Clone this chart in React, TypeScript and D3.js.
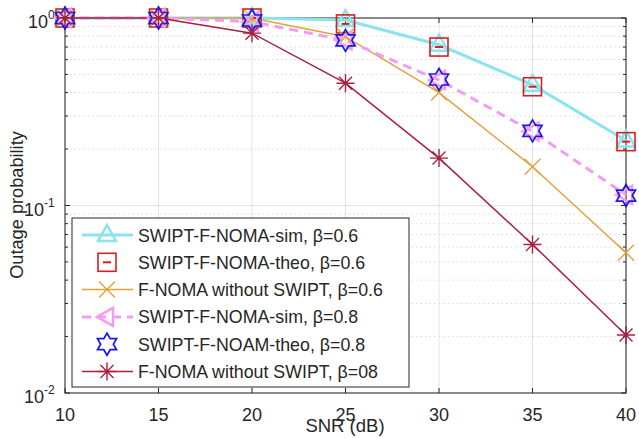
import React from 'react';
import * as d3 from 'd3';

const snr = [10, 15, 20, 25, 30, 35, 40];
const simB06 = [1, 1, 1, 0.975, 0.72, 0.44, 0.222];
const theoB06 = [1, 1, 1, 0.93, 0.70, 0.43, 0.219];
const nomaB06 = [1, 1, 1, 0.795, 0.40, 0.161, 0.056];
const simB08 = [1, 1, 0.955, 0.76, 0.467, 0.248, 0.114];
const theoB08 = [1, 1, 0.97, 0.76, 0.47, 0.25, 0.113];
const nomaB08 = [1, 1, 0.83, 0.449, 0.179, 0.062, 0.0204];

const legendLabels = [
  'SWIPT-F-NOMA-sim, β=0.6',
  'SWIPT-F-NOMA-theo, β=0.6',
  'F-NOMA without SWIPT, β=0.6',
  'SWIPT-F-NOMA-sim, β=0.8',
  'SWIPT-F-NOAM-theo, β=0.8',
  'F-NOMA without SWIPT, β=08',
];
const xTicks = [10, 15, 20, 25, 30, 35, 40];
const yTicks = [1, 0.1, 0.01];
const yTickExp = ['0', '-1', '-2'];

const W = 639, H = 438;
const left = 65, right = 626, top = 18, bottom = 393;
const FONT = 'Liberation Sans, Arial, sans-serif';

const x = d3.scaleLinear().domain([10, 40]).range([left, right]);
const y = d3.scaleLog().domain([0.01, 1]).range([bottom, top]);

const C = {
  cyan: '#8be3ef',
  red: '#d42020',
  orange: '#e2a23a',
  pink: '#f59bf0',
  blue: '#1a1ae6',
  dark: '#a8203c',
};

function hexagram(r: number) {
  const pts: [number, number][] = [];
  for (let i = 0; i < 12; i++) {
    const rr = i % 2 === 0 ? r : r / Math.sqrt(3);
    const a = -Math.PI / 2 + (i * Math.PI) / 6;
    pts.push([rr * Math.cos(a), rr * Math.sin(a)]);
  }
  return 'M' + pts.map(p => p.join(',')).join('L') + 'Z';
}

type MarkerKind = 'tri' | 'sq' | 'x' | 'ltri' | 'hex' | 'ast';

function Marker({ kind, cx, cy }: { kind: MarkerKind; cx: number; cy: number }) {
  const t = `translate(${cx},${cy})`;
  switch (kind) {
    case 'tri':
      return <path transform={t} d="M0,-10L9,6L-9,6Z" fill="none" stroke={C.cyan} strokeWidth={2.5} />;
    case 'sq':
      return (
        <g transform={t}>
          <rect x={-9} y={-9} width={18} height={18} fill="none" stroke={C.red} strokeWidth={1.6} />
          <line x1={-4} x2={4} y1={0} y2={0} stroke={C.red} strokeWidth={2} />
        </g>
      );
    case 'x':
      return <path transform={t} d="M-8,-8L8,8M-8,8L8,-8" stroke={C.orange} strokeWidth={1.4} />;
    case 'ltri':
      return <path transform={t} d="M-10,0L6,-9L6,9Z" fill="none" stroke={C.pink} strokeWidth={2.5} />;
    case 'hex':
      return <path transform={t} d={hexagram(11)} fill="none" stroke={C.blue} strokeWidth={1.7} />;
    case 'ast':
      return <path transform={t} d="M-9,0L9,0M0,-9L0,9M-6.5,-6.5L6.5,6.5M-6.5,6.5L6.5,-6.5" stroke={C.dark} strokeWidth={1.4} />;
  }
}

const series: { vals: number[]; color: string; width: number; dash?: string; line: boolean; marker: MarkerKind }[] = [
  { vals: simB06, color: C.cyan, width: 3, line: true, marker: 'tri' },
  { vals: theoB06, color: C.red, width: 1.5, line: false, marker: 'sq' },
  { vals: nomaB06, color: C.orange, width: 1.5, line: true, marker: 'x' },
  { vals: simB08, color: C.pink, width: 3, dash: '9,6', line: true, marker: 'ltri' },
  { vals: theoB08, color: C.blue, width: 1.5, line: false, marker: 'hex' },
  { vals: nomaB08, color: C.dark, width: 1.5, line: true, marker: 'ast' },
];

export default function App() {
  const line = d3.line<number>().x((_, i) => x(snr[i])).y(v => y(v));
  const minor: number[] = [];
  [0.01, 0.1].forEach(d => { for (let k = 2; k <= 9; k++) minor.push(d * k); });

  const lg = { x: 72, y: 218, w: 337, h: 169, row: 27.3 };

  return (
    <svg width={W} height={H} style={{ position: 'absolute', left: 0, top: 0, background: '#fff' }} fontFamily={FONT}>
      {/* grid */}
      {minor.map(v => (
        <line key={'m' + v} x1={left} x2={right} y1={y(v)} y2={y(v)} stroke="#cfcfcf" strokeWidth={0.8} strokeDasharray="1.5,3" />
      ))}
      {yTicks.map(v => (
        <line key={'g' + v} x1={left} x2={right} y1={y(v)} y2={y(v)} stroke="#e2e2e2" strokeWidth={1} />
      ))}
      {xTicks.map(v => (
        <line key={'gx' + v} x1={x(v)} x2={x(v)} y1={top} y2={bottom} stroke="#e2e2e2" strokeWidth={1} />
      ))}

      {/* axes box */}
      <rect x={left} y={top} width={right - left} height={bottom - top} fill="none" stroke="#262626" strokeWidth={1} />
      {xTicks.map(v => (
        <g key={'tx' + v}>
          <line x1={x(v)} x2={x(v)} y1={bottom} y2={bottom - 5} stroke="#262626" />
          <line x1={x(v)} x2={x(v)} y1={top} y2={top + 5} stroke="#262626" />
          <text x={x(v)} y={421} fontSize={18} fill="#262626" textAnchor="middle">{v}</text>
        </g>
      ))}
      {minor.map(v => (
        <g key={'ty' + v}>
          <line x1={left} x2={left + 3} y1={y(v)} y2={y(v)} stroke="#262626" />
          <line x1={right} x2={right - 3} y1={y(v)} y2={y(v)} stroke="#262626" />
        </g>
      ))}
      {yTicks.map((v, i) => (
        <g key={'yl' + v}>
          <line x1={left} x2={left + 5} y1={y(v)} y2={y(v)} stroke="#262626" />
          <line x1={right} x2={right - 5} y1={y(v)} y2={y(v)} stroke="#262626" />
          <text x={i === 0 ? 48 : 44} y={y(v) + 10} fontSize={18} fill="#262626" textAnchor="end">10</text>
          <text x={i === 0 ? 48 : 44} y={y(v) + 1} fontSize={12} fill="#262626" textAnchor="start">{yTickExp[i]}</text>
        </g>
      ))}

      {/* series */}
      {series.map((s, i) =>
        s.line ? (
          <path key={'l' + i} d={line(s.vals) || ''} fill="none" stroke={s.color} strokeWidth={s.width} strokeDasharray={s.dash} />
        ) : null
      )}
      {series.map((s, i) =>
        s.vals.map((v, j) => <Marker key={'mk' + i + '-' + j} kind={s.marker} cx={x(snr[j])} cy={y(v)} />)
      )}

      {/* labels */}
      <text transform="translate(23,205) rotate(-90)" fontSize={18.2} fill="#262626" textAnchor="middle">Outage probability</text>
      <text x={345} y={432} fontSize={18.5} fill="#262626" textAnchor="middle">SNR (dB)</text>

      {/* legend */}
      <rect x={lg.x} y={lg.y} width={lg.w} height={lg.h} fill="#fff" stroke="#262626" strokeWidth={1} />
      {series.map((s, i) => {
        const cy = lg.y + 17 + i * lg.row;
        return (
          <g key={'lg' + i}>
            {s.line && <line x1={82} x2={133} y1={cy} y2={cy} stroke={s.color} strokeWidth={s.width} strokeDasharray={s.dash} />}
            <Marker kind={s.marker} cx={107} cy={cy} />
            <text x={138} y={cy + 6.5} fontSize={17.8} fill="#262626">{legendLabels[i]}</text>
          </g>
        );
      })}
    </svg>
  );
}
